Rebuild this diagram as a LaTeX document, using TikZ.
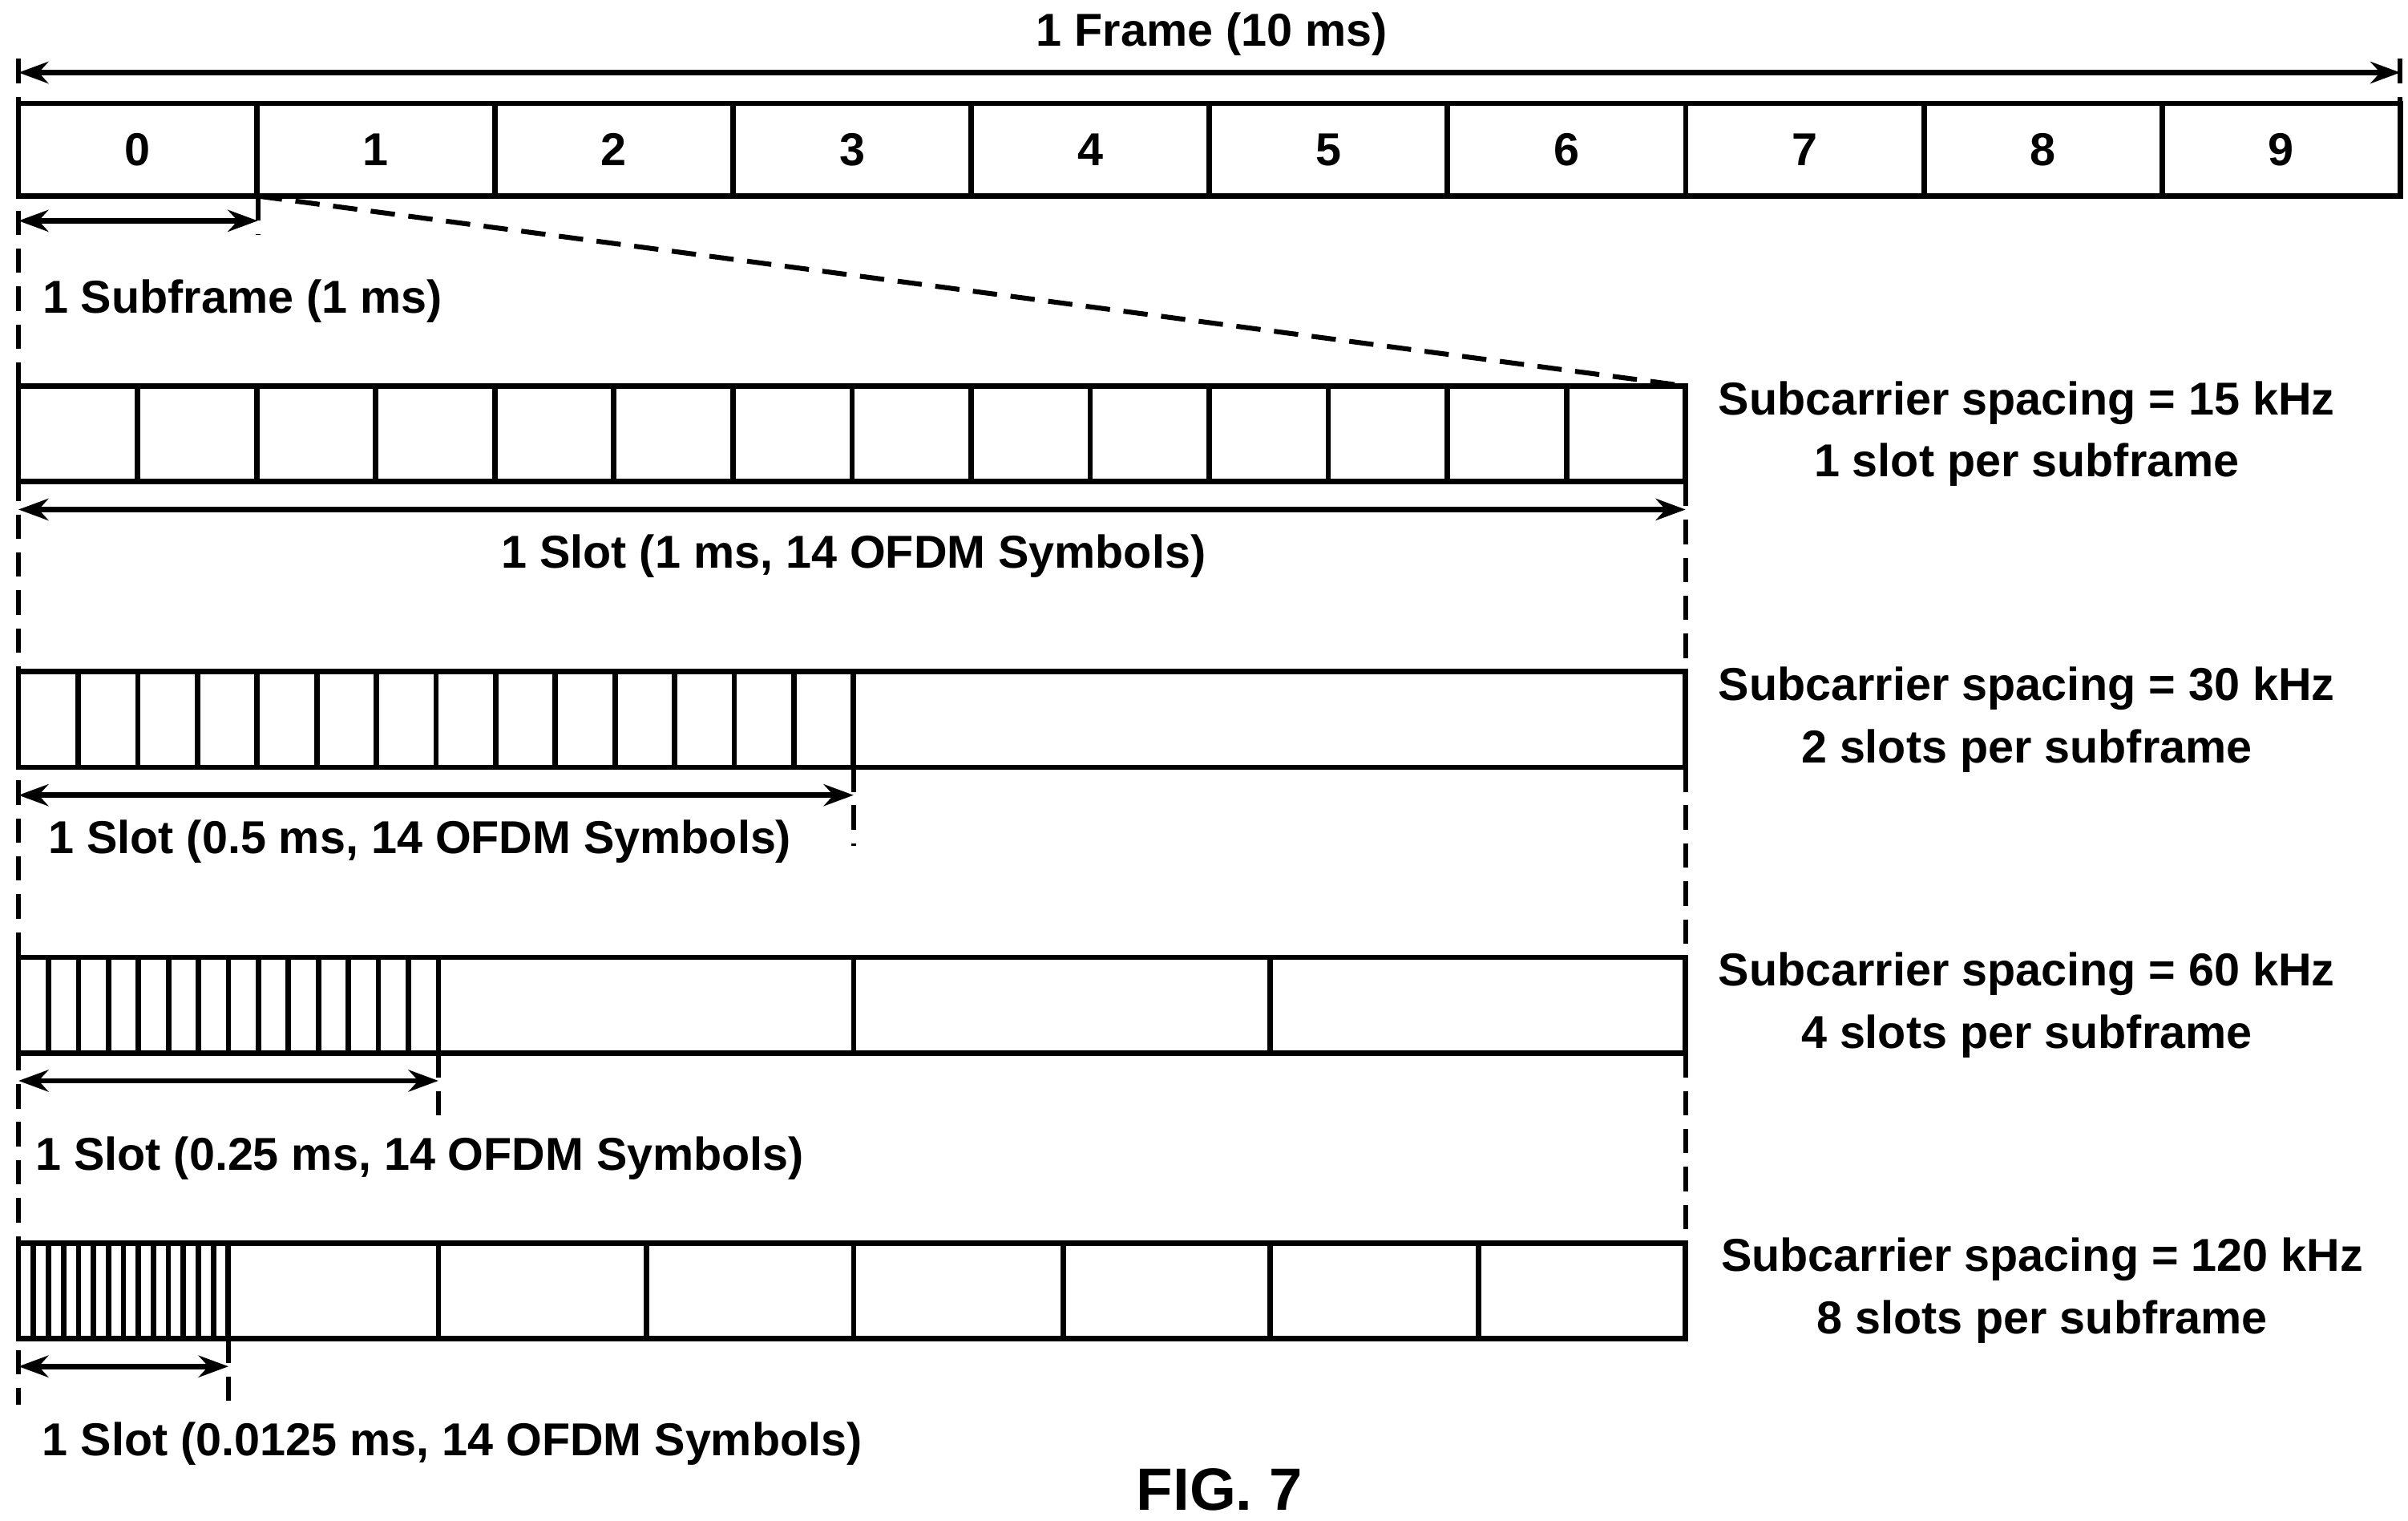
\documentclass[tikz,border=0pt]{standalone}
\usepackage{fontspec}
\setmainfont{Liberation Sans}
\usetikzlibrary{arrows.meta,positioning}

\begin{document}
\begin{tikzpicture}[
  x=0.02cm, y=-0.02cm,
  bar/.style={draw, line width=2pt},
  span/.style={{Stealth[length=11pt,width=8pt]}-{Stealth[length=11pt,width=8pt]}, line width=2pt},
  guide/.style={line width=1.8pt, dash pattern=on 9pt off 5pt},
  lbl/.style={font=\bfseries\fontsize{17}{20}\selectfont, align=center},
  every node/.style={inner sep=0pt}
]
\useasboundingbox (0,0) rectangle (1560,985);

% frame
\draw[bar] (12,67) rectangle (1555,127);
\foreach \i in {0,...,9} {
  \node[lbl] (sf\i) at ({12+154.3*(\i+0.5)},97) {\i};
  \ifnum\i>0 \draw[bar] ({12+154.3*\i},67) -- ({12+154.3*\i},127); \fi
}
\coordinate (fL) at (12,47);
\coordinate (fR) at (1555,47);
\draw[span] (fL) -- (fR);
\node[lbl] (frame) at (785,22) {1 Frame (10 ms)};
\draw[guide] (12,38) -- (12,910);
\draw[guide] (1555,38) -- (1555,67);

% subframe
\coordinate (sfL) at (12,143);
\coordinate (sfR) at (167,143);
\draw[span] (sfL) -- (sfR);
\draw[guide] (167,127) -- (167,152);
\node[lbl] (sftext) at (157,195) {1 Subframe (1 ms)};
\draw[guide] (167,127) -- (1092,250);

% 15 kHz
\draw[bar] (12,250) rectangle (1092,312);
\foreach \k in {1,...,13} \draw[bar] ({12+77.14*\k},250) -- ({12+77.14*\k},312);
\draw[span] (12,330) -- (1092,330);
\node[lbl] (s15) at (553,360) {1 Slot (1 ms, 14 OFDM Symbols)};
\node[lbl] (c15) at (1313,281) {Subcarrier spacing = 15 kHz\\[3pt]1 slot per subframe};
\draw[guide] (1092,312) -- (1092,435);

% 30 kHz
\draw[bar] (12,435) rectangle (1092,497);
\foreach \k in {1,...,14} \draw[bar] ({12+38.64*\k},435) -- ({12+38.64*\k},497);
\draw[span] (12,515) -- (553,515);
\draw[guide] (553,497) -- (553,548);
\node[lbl] (s30) at (272,545) {1 Slot (0.5 ms, 14 OFDM Symbols)};
\node[lbl] (c30) at (1313,466) {Subcarrier spacing = 30 kHz\\[3pt]2 slots per subframe};
\draw[guide] (1092,497) -- (1092,620);

% 60 kHz
\draw[bar] (12,620) rectangle (1092,682);
\foreach \k in {1,...,14} \draw[bar] ({12+19.43*\k},620) -- ({12+19.43*\k},682);
\foreach \x in {553,823} \draw[bar] (\x,620) -- (\x,682);
\draw[span] (12,700) -- (284,700);
\draw[guide] (284,682) -- (284,725);
\node[lbl] (s60) at (272,750) {1 Slot (0.25 ms, 14 OFDM Symbols)};
\node[lbl] (c60) at (1313,651) {Subcarrier spacing = 60 kHz\\[3pt]4 slots per subframe};
\draw[guide] (1092,682) -- (1092,805);

% 120 kHz
\draw[bar] (12,805) rectangle (1092,867);
\foreach \k in {1,...,14} \draw[bar] ({12+9.71*\k},805) -- ({12+9.71*\k},867);
\foreach \x in {284,419,553,689,823,958} \draw[bar] (\x,805) -- (\x,867);
\draw[span] (12,885) -- (148,885);
\draw[guide] (148,867) -- (148,910);
\node[lbl] (s120) at (293,935) {1 Slot (0.0125 ms, 14 OFDM Symbols)};
\node[lbl] (c120) at (1323,836) {Subcarrier spacing = 120 kHz\\[3pt]8 slots per subframe};

\node[font=\bfseries\fontsize{22}{26}\selectfont] (fig) at (790,965) {FIG. 7};
\end{tikzpicture}
\end{document}
